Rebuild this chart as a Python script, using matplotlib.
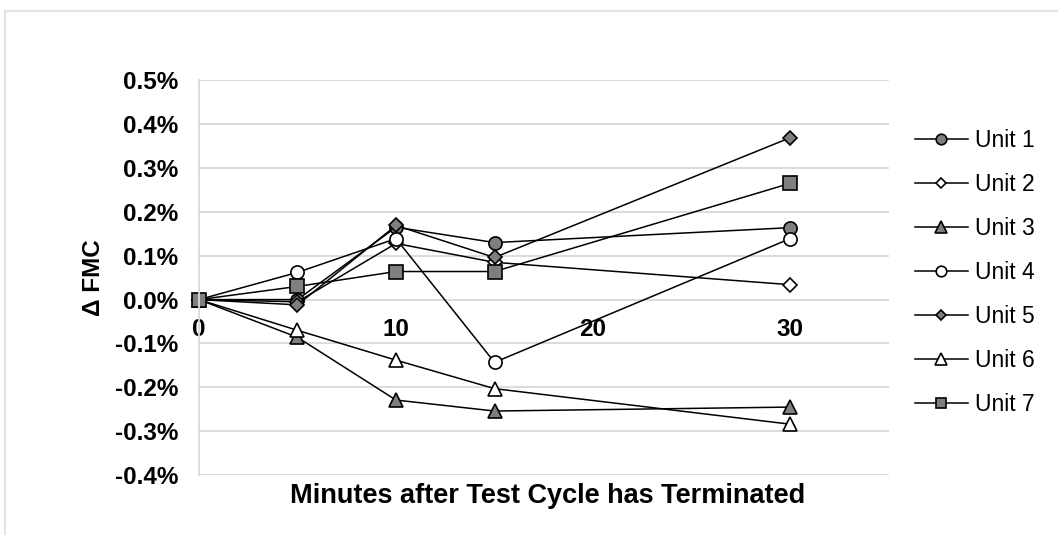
import matplotlib.pyplot as plt
from matplotlib.lines import Line2D
from matplotlib.ticker import FuncFormatter

plt.rcParams['font.family'] = ['Liberation Sans', 'DejaVu Sans']

# minutes after test cycle terminated
minutes = [0, 5, 10, 15, 30]

# change in FMC (percent)
unit1 = [0.0, 0.0, 0.165, 0.130, 0.164]
unit2 = [0.0, -0.005, 0.128, 0.085, 0.034]
unit3 = [0.0, -0.086, -0.229, -0.254, -0.245]
unit4 = [0.0, 0.062, 0.139, -0.143, 0.139]
unit5 = [0.0, -0.012, 0.169, 0.096, 0.369]
unit6 = [0.0, -0.070, -0.138, -0.203, -0.284]
unit7 = [0.0, 0.030, 0.064, 0.064, 0.265]

labels = ['Unit 1', 'Unit 2', 'Unit 3', 'Unit 4', 'Unit 5', 'Unit 6', 'Unit 7']
series = [unit1, unit2, unit3, unit4, unit5, unit6, unit7]

grey = '#7f7f7f'
styles = [('o', grey, 9.5), ('D', 'white', 7), ('^', grey, 10),
          ('o', 'white', 9.5), ('D', grey, 7), ('^', 'white', 10),
          ('s', grey, 9.5)]

fig = plt.figure(figsize=(10.58, 5.35), dpi=100)
ax = fig.add_axes([0.188, 0.112, 0.652, 0.738])

for lab, ys, (mk, fc, ms) in zip(labels, series, styles):
    ax.plot(minutes, ys, color='black', lw=1.1, marker=mk, markersize=ms,
            markerfacecolor=fc, markeredgecolor='black', markeredgewidth=1.2,
            label=lab, clip_on=False)

ax.set_xlim(0, 35)
ax.set_ylim(-0.4, 0.5)
ax.set_yticks([-0.4, -0.3, -0.2, -0.1, 0.0, 0.1, 0.2, 0.3, 0.4, 0.5])
ax.set_xticks([0, 10, 20, 30])
ax.yaxis.set_major_formatter(FuncFormatter(lambda v, p: f'{v:.1f}%'))

ax.grid(axis='y', color='#d9d9d9', lw=1.3)
ax.set_axisbelow(True)
for s in ['top', 'right']:
    ax.spines[s].set_visible(False)
ax.spines['left'].set_color('#d9d9d9')
ax.spines['left'].set_linewidth(1.3)
ax.spines['bottom'].set_position(('data', 0))
ax.spines['bottom'].set_visible(False)
ax.tick_params(length=0)
ax.tick_params(axis='y', pad=15, labelsize=17.5)
ax.tick_params(axis='x', pad=13, labelsize=17.5)
for t in ax.get_xticklabels() + ax.get_yticklabels():
    t.set_fontweight('bold')

ax.set_ylabel('\u0394 FMC', fontsize=17.5, fontweight='bold', labelpad=7)
fig.text(0.518, 0.073, 'Minutes after Test Cycle has Terminated',
         fontsize=19.5, fontweight='bold', ha='center', va='center')

ax.legend(loc='upper left', bbox_to_anchor=(1.025, 0.90), frameon=False,
          fontsize=16.5, handlelength=2.3, handletextpad=0.3,
          labelspacing=0.92, borderaxespad=0, markerscale=0.8)

# chart outer border
fig.add_artist(Line2D([5 / 1058, 1], [1 - 11 / 535, 1 - 11 / 535],
                      color='#e3e3e3', lw=1.5, transform=fig.transFigure))
fig.add_artist(Line2D([5 / 1058, 5 / 1058], [0, 1 - 11 / 535],
                      color='#e3e3e3', lw=1.5, transform=fig.transFigure))

fig.savefig('out.png', dpi=100)
